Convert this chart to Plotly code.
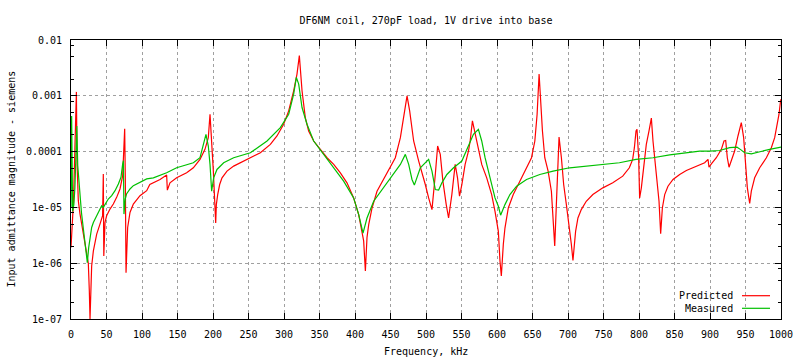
import numpy as np
import plotly.graph_objects as go

title_text = "DF6NM coil, 270pF load, 1V drive into base"
x_title = "Frequency, kHz"
y_title = "Input admittance magnitude - siemens"
series_names = ["Predicted", "Measured"]

# Predicted: frequency (kHz) and log10(admittance, S)
pred_freq = [0, 0.9, 2.3, 3.5, 4.2, 5.5, 7.0, 7.6, 8.5, 10.3, 12.7, 15, 18.3, 22.1, 24.4, 25.8, 26.8,
             28, 29.1, 31.5, 36.2, 40.8, 43.2, 44.5, 45.5, 46.2, 47.9, 50.2, 54.9, 59.6, 64.3, 69,
             72.8, 74, 75.6, 76.5, 77.5, 79.8, 83.1, 87.8, 97.2, 106.6, 111, 125.4, 134.7, 135.7,
             139.4, 148.8, 162.9, 172.3, 181.7, 188.7, 193.4, 195.8, 198.1, 200.5, 203.8, 204.7,
             206.6, 209.4, 212.7, 219.7, 229.1, 238.5, 252.6, 266.7, 280.8, 290.1, 299.5, 306.6,
             313.6, 318.3, 321.6, 323, 325.4, 330, 334.7, 341.8, 351.2, 360.6, 370, 379.4, 388.7,
             398.1, 405.2, 409.9, 412.2, 414.6, 416.9, 419.3, 424, 431, 440.4, 449.8, 456.8, 463.9,
             468.6, 473.3, 477, 482.6, 489.7, 494, 499, 503.7, 508.4, 513.1, 516.4, 520.1, 523.8,
             528.5, 531.8, 536.4, 541.1, 544.4, 547.2, 550.5, 555.1, 559.8, 562.2, 565.4, 569.2,
             573.8, 578.5, 585.5, 592.5, 597.2, 601.9, 604.2, 606.1, 608.9, 611.2, 615.9, 622.9,
             632.2, 641.6, 648.6, 653.3, 656.5, 659.3, 661.2, 664, 667.3, 672, 676.6, 679, 681.3,
             683.6, 686, 687.4, 690.7, 693.9, 697.7, 702.3, 704.7, 707, 710.7, 714, 718.7, 725.7,
             735, 749.1, 763.1, 777.1, 786.4, 791.1, 793.5, 795.8, 797.2, 799.5, 800.9, 803.3,
             806.6, 810.3, 814.1, 817.4, 819.7, 824.4, 828.2, 830.5, 832.9, 836.2, 840.8, 847.9,
             857.3, 866.7, 880.8, 892.5, 897.2, 898.6, 901.9, 908.9, 916, 919.7, 922.1, 924.4,
             926.8, 930.1, 934.7, 939.4, 944.1, 947.4, 950.2, 952.6, 955.9, 958.2, 962.9, 970,
             979.4, 986.4, 991.1, 994.4, 997.2, 999.1, 1000]
pred_log10 = [-5.72, -5.36, -5.18, -4.9, -4.52, -4.1, -3.4, -2.93, -4.2, -4.88, -5.12, -5.3, -5.6, -5.9,
              -6.0, -6.5, -7.0, -6.5, -6.05, -5.78, -5.48, -5.3, -5.21, -5.15, -4.4, -5.87, -5.27,
              -5.15, -5.03, -4.94, -4.82, -4.67, -4.43, -4.1, -3.59, -4.5, -6.17, -5.36, -5.09,
              -4.94, -4.79, -4.70, -4.59, -4.50, -4.42, -4.69, -4.56, -4.47, -4.38, -4.29, -4.14,
              -3.96, -3.75, -3.33, -3.75, -4.35, -5.28, -4.95, -4.77, -4.59, -4.47, -4.35, -4.26,
              -4.20, -4.11, -4.02, -3.87, -3.72, -3.51, -3.27, -2.91, -2.61, -2.28, -2.49, -2.91,
              -3.39, -3.63, -3.81, -3.96, -4.11, -4.23, -4.38, -4.56, -4.83, -5.13, -5.43, -5.60,
              -6.14, -5.54, -5.31, -5.01, -4.71, -4.50, -4.29, -4.11, -3.75, -3.33, -3.0, -3.27,
              -3.81, -4.17, -4.35, -4.59, -4.83, -5.04, -4.41, -3.90, -4.05, -4.53, -4.95, -5.19,
              -4.77, -4.23, -4.47, -4.80, -4.59, -4.23, -3.99, -3.81, -3.45, -3.69, -3.99, -4.23,
              -4.47, -4.77, -5.07, -5.43, -5.96, -6.23, -5.66, -5.37, -5.01, -4.77, -4.53, -4.29,
              -4.11, -3.81, -3.33, -2.61, -3.03, -3.63, -4.11, -4.35, -4.71, -5.19, -5.69, -4.95,
              -4.11, -3.74, -4.11, -4.59, -4.95, -5.37, -5.66, -5.95, -5.43, -5.19, -5.04, -4.89,
              -4.77, -4.65, -4.56, -4.44, -4.29, -4.14, -3.93, -3.63, -3.60, -4.11, -4.83, -4.65,
              -4.23, -3.87, -3.63, -3.40, -3.81, -4.35, -4.89, -5.47, -5.01, -4.77, -4.62, -4.50,
              -4.41, -4.34, -4.26, -4.20, -4.14, -4.28, -4.22, -4.11, -3.96, -3.81, -3.80, -4.11,
              -4.28, -4.17, -3.99, -3.72, -3.48, -3.75, -4.17, -4.65, -4.93, -4.71, -4.47, -4.29,
              -4.11, -3.93, -3.75, -3.54, -3.33, -3.12, -3.06]

# Measured: frequency (kHz) and log10(admittance, S)
meas_freq = [0, 0.9, 2.3, 4.0, 5.5, 6.8, 8.2, 9.5, 11, 12.7, 14.8, 17.1, 19.5, 21.1, 23, 24.9, 26.8,
             29.1, 31.5, 36.2, 40, 43.2, 45.5, 47.9, 50.2, 52.5, 57.3, 62, 66.7, 70.4, 72.8, 73.8,
             74.6, 76.4, 78.2, 83.1, 87.8, 97.2, 106.6, 116, 134.7, 148.8, 172.3, 181.7, 186.4,
             190.1, 193.4, 195.8, 198.1, 200.9, 205.6, 215, 229.1, 252.6, 276.1, 294.8, 306.6,
             313.6, 317.4, 320.7, 325.4, 332.4, 341.8, 355.9, 370, 384, 398.1, 405.2, 411.3,
             416.9, 426.3, 440.4, 454.5, 463.9, 470.9, 475.6, 480.3, 483.6, 492, 503.7, 508.4,
             513.1, 517.8, 522.4, 529.4, 538.8, 550.5, 559.8, 566.8, 573.8, 578.5, 583.2, 590.2,
             597.2, 601.9, 605.1, 611.2, 618.2, 627.6, 641.6, 660.3, 679, 702.3, 725.7, 749.1,
             772.4, 795.8, 819.7, 843.2, 866.7, 885.5, 899.5, 913.6, 927.7, 938, 942.7, 948.8,
             958.2, 970, 984, 1000]
meas_log10 = [-5.0, -3.36, -5.07, -4.95, -4.65, -4.15, -3.54, -4.25, -4.6, -4.77, -5.1, -5.36, -5.58,
              -5.78, -5.99, -5.72, -5.51, -5.36, -5.27, -5.15, -5.03, -4.97, -5.0, -4.94, -4.91,
              -4.85, -4.79, -4.70, -4.58, -4.46, -4.22, -4.16, -5.12, -4.85, -4.76, -4.67, -4.61,
              -4.55, -4.49, -4.47, -4.38, -4.29, -4.20, -4.11, -3.90, -3.69, -3.90, -4.23, -4.71,
              -4.47, -4.32, -4.20, -4.11, -4.02, -3.81, -3.57, -3.33, -2.97, -2.67, -2.79, -3.21,
              -3.51, -3.81, -4.05, -4.29, -4.53, -4.83, -5.13, -5.46, -5.19, -4.89, -4.65, -4.41,
              -4.23, -4.05, -4.23, -4.50, -4.60, -4.29, -4.14, -4.35, -4.68, -4.69, -4.56, -4.41,
              -4.29, -4.17, -3.90, -3.69, -3.60, -3.81, -4.11, -4.47, -4.83, -4.98, -5.14, -4.95,
              -4.77, -4.62, -4.50, -4.41, -4.35, -4.29, -4.26, -4.23, -4.20, -4.14, -4.11, -4.06,
              -4.02, -3.99, -3.99, -3.98, -3.93, -3.92, -3.96, -4.02, -4.04, -4.0, -3.96, -3.92]

x_ticks = [0, 50, 100, 150, 200, 250, 300, 350, 400, 450, 500, 550, 600, 650, 700, 750, 800, 850, 900, 950, 1000]
y_tick_vals = [1e-7, 1e-6, 1e-5, 1e-4, 1e-3, 1e-2]
y_tick_text = ["1e-07", "1e-06", "1e-05", "0.0001", "0.001", "0.01"]

RED = "#ff0000"
GREEN = "#00c000"
FONT = "DejaVu Sans Mono"

W, H = 800, 360
L, R, T, B = 71, 781, 40, 319  # plot-area pixel bounds

pred_y = np.power(10.0, np.array(pred_log10))
meas_y = np.power(10.0, np.array(meas_log10))

fig = go.Figure()
fig.add_trace(go.Scatter(x=pred_freq, y=pred_y, mode="lines", name=series_names[0],
                         line=dict(color=RED, width=1.2), showlegend=False))
fig.add_trace(go.Scatter(x=meas_freq, y=meas_y, mode="lines", name=series_names[1],
                         line=dict(color=GREEN, width=1.2), showlegend=False))

minor_vals = [m * 10.0 ** e for e in range(-7, -2) for m in (2, 5, 8)]

fig.update_layout(
    width=W, height=H,
    margin=dict(l=L, r=W - R, t=T, b=H - B, autoexpand=False),
    paper_bgcolor="white", plot_bgcolor="white",
    font=dict(family=FONT, size=10, color="black"),
    title=dict(text=title_text, x=0.5, xref="paper", y=1 - 20 / H, yref="container",
               xanchor="center", yanchor="middle", font=dict(family=FONT, size=10)),
    showlegend=False,
)
fig.update_xaxes(
    range=[0, 1000], tickmode="array", tickvals=x_ticks, ticks="inside", ticklen=6,
    tickcolor="black", showline=True, linecolor="black", linewidth=1, mirror="ticks",
    showgrid=True, gridcolor="#a0a0a0", griddash="dot", gridwidth=1, zeroline=False,
    ticklabelstandoff=6, automargin=False,
)
fig.update_yaxes(
    type="log", range=[-7, -2], tickmode="array", tickvals=y_tick_vals, ticktext=y_tick_text,
    ticks="inside", ticklen=6, tickcolor="black", showline=True, linecolor="black", linewidth=1,
    mirror="ticks", showgrid=True, gridcolor="#a0a0a0", griddash="dot", gridwidth=1,
    zeroline=False, ticklabelstandoff=6, automargin=False,
    minor=dict(tickvals=minor_vals, ticks="inside", ticklen=3, tickcolor="black", showgrid=False),
)

# Axis titles
fig.add_annotation(text=x_title, x=0.5, y=-(351 - B) / (B - T), xref="paper", yref="paper",
                   xanchor="center", yanchor="middle", showarrow=False,
                   font=dict(family=FONT, size=10))
fig.add_annotation(text=y_title, x=-(L - 11) / (R - L), y=0.5, xref="paper", yref="paper",
                   xanchor="center", yanchor="middle", textangle=-90, showarrow=False,
                   font=dict(family=FONT, size=10))

# Legend (gnuplot style: text right-aligned, sample line to its right)
leg_text_x = (735 - L) / (R - L)
leg_x0 = (742 - L) / (R - L)
leg_x1 = (770 - L) / (R - L)
leg_rows = [(series_names[0], RED, (B - 295.7) / (B - T)), (series_names[1], GREEN, (B - 308.3) / (B - T))]
for name, col, yy in leg_rows:
    fig.add_annotation(text=name, x=leg_text_x, y=yy, xref="paper", yref="paper",
                       xanchor="right", yanchor="middle", showarrow=False,
                       font=dict(family=FONT, size=10, color="black"))
    fig.add_shape(type="line", xref="paper", yref="paper", x0=leg_x0, x1=leg_x1, y0=yy, y1=yy,
                  line=dict(color=col, width=1.2))

fig.write_html("out.html", config={"displayModeBar": False},
               post_script="document.body.style.margin='0px';")
